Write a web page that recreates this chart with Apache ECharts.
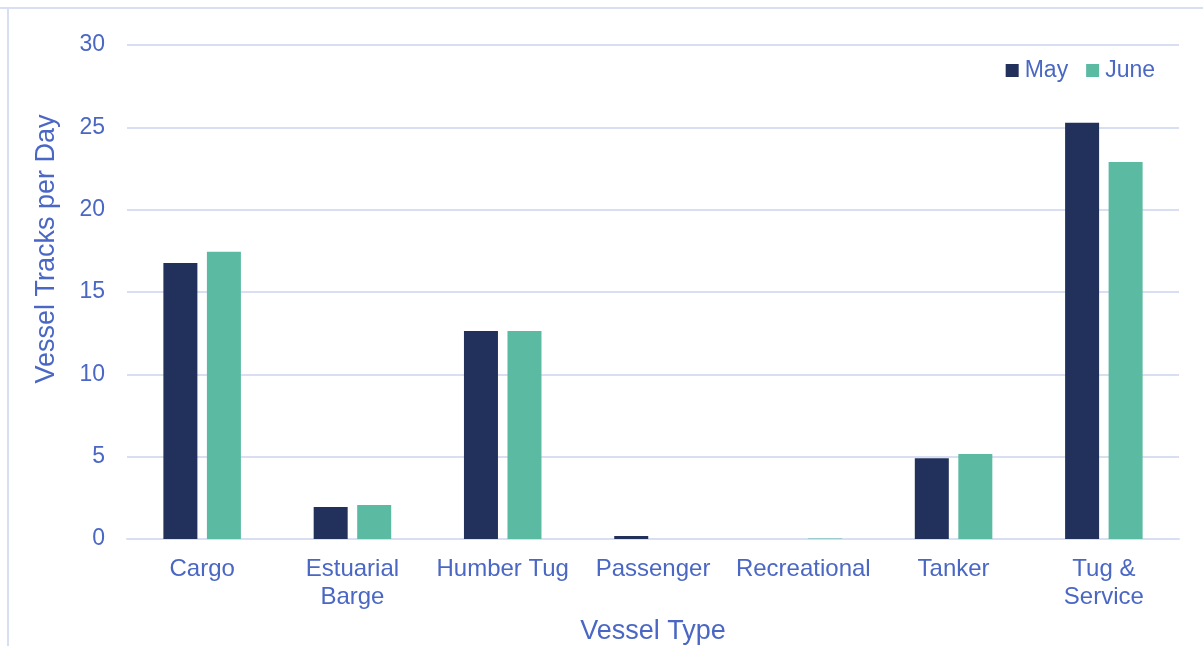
<!DOCTYPE html>
<html>
<head>
<meta charset="utf-8">
<title>Vessel Tracks per Day</title>
<script src="https://cdn.jsdelivr.net/npm/echarts@6/dist/echarts.min.js"></script>
<style>
  html, body { margin: 0; padding: 0; background: #ffffff; }
  #chart { width: 1203px; height: 646px; }
</style>
</head>
<body>
<div id="chart"></div>
<script>
// Vessel types along the x axis
var categories = ['Cargo', 'Estuarial\nBarge', 'Humber Tug', 'Passenger', 'Recreational', 'Tanker', 'Tug &\nService'];
// Average vessel tracks per day, by month
var mayValues = [16.76, 1.94, 12.63, 0.18, 0, 4.91, 25.28];
var juneValues = [17.45, 2.06, 12.63, 0, 0.03, 5.16, 22.9];
var seriesNames = ['May', 'June'];
var yTitle = 'Vessel Tracks per Day';
var xTitle = 'Vessel Type';

var textColor = '#4a67c4';
var lineColor = '#d9dff3';
var font = '"Liberation Sans", Arial, sans-serif';

var chart = echarts.init(document.getElementById('chart'), null, { renderer: 'canvas' });

chart.setOption({
  animation: false,
  backgroundColor: '#ffffff',
  textStyle: { fontFamily: font },
  graphic: [
    // frame lines along the top and left edges
    { type: 'line', shape: { x1: 0, y1: 8, x2: 1203, y2: 8 }, style: { stroke: lineColor, lineWidth: 2 } },
    { type: 'line', shape: { x1: 8, y1: 8, x2: 8, y2: 646 }, style: { stroke: lineColor, lineWidth: 2 } },
    // value axis title, rotated
    {
      type: 'text',
      x: 47,
      y: 249,
      rotation: Math.PI / 2,
      style: {
        text: yTitle,
        fill: textColor,
        font: '27px ' + font,
        align: 'center',
        verticalAlign: 'middle'
      }
    }
  ],
  grid: { left: 127, right: 24, top: 45, bottom: 107, containLabel: false, outerBoundsMode: 'none' },
  legend: {
    right: 48,
    top: 59,
    padding: 0,
    itemWidth: 13,
    itemHeight: 13,
    itemGap: 18,
    icon: 'rect',
    textStyle: { color: textColor, fontSize: 23, fontFamily: font, padding: [0, 0, 0, 1] },
    data: seriesNames
  },
  xAxis: {
    type: 'category',
    data: categories,
    name: xTitle,
    nameLocation: 'middle',
    nameGap: 79,
    nameTextStyle: { color: textColor, fontSize: 27, fontFamily: font },
    axisLine: { lineStyle: { color: lineColor, width: 2 } },
    axisTick: { show: false },
    axisLabel: { color: textColor, fontSize: 24, fontFamily: font, margin: 16, lineHeight: 28, interval: 0 }
  },
  yAxis: {
    type: 'value',
    min: 0,
    max: 30,
    interval: 5,
    axisLine: { show: false },
    axisTick: { show: false },
    axisLabel: { color: textColor, fontSize: 23, fontFamily: font, margin: 22 },
    splitLine: { lineStyle: { color: lineColor, width: 2 } }
  },
  series: [
    {
      name: seriesNames[0],
      type: 'bar',
      data: mayValues,
      barWidth: 34,
      barGap: '28%',
      itemStyle: { color: '#22305c' }
    },
    {
      name: seriesNames[1],
      type: 'bar',
      data: juneValues,
      barWidth: 34,
      itemStyle: { color: '#5bbaa2' }
    }
  ]
});
</script>
</body>
</html>
